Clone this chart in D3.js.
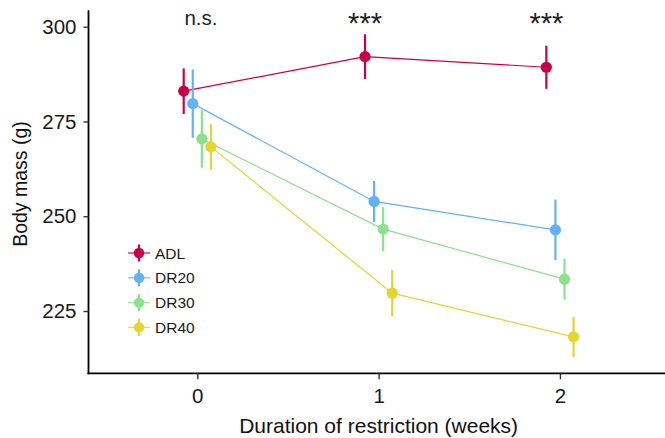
<!DOCTYPE html>
<html>
<head>
<meta charset="utf-8">
<script src="https://cdn.jsdelivr.net/npm/d3@7"></script>
<style>
  body { margin: 0; background: #fff; }
  svg { display: block; font-family: "Liberation Sans", Arial, sans-serif; }
</style>
</head>
<body>
<div id="chart"></div>
<script>
// body mass by diet group, mean +/- error
const weeks = [0, 1, 2]
const groups = ["ADL", "DR20", "DR30", "DR40"]
const colors = ["#c8004a", "#63b1f6", "#8ce28b", "#e4d52f"]

const meanADL  = [283.0, 292.1, 289.3]
const meanDR20 = [279.7, 253.9, 246.4]
const meanDR30 = [270.4, 246.6, 233.4]
const meanDR40 = [268.3, 229.7, 218.2]

const errADL  = [6.0, 5.9, 5.7]
const errDR20 = [9.0, 5.4, 8.0]
const errDR30 = [7.6, 5.8, 5.4]
const errDR40 = [6.0, 6.1, 5.3]

const yTicks = [225, 250, 275, 300]
const sigLabels = ["n.s.", "***", "***"]

const means = [meanADL, meanDR20, meanDR30, meanDR40]
const errs = [errADL, errDR20, errDR30, errDR40]

const W = 665, H = 438
const dodge = 0.2

const x = d3.scaleLinear().domain([-0.6, 2.6]).range([88.5, 668.75])
const y = d3.scaleLinear().domain([208.57, 304.22]).range([373.3, 10.7])

const offset = d3.scalePoint().domain(groups).range([-dodge * 3 / 8, dodge * 3 / 8])

const data = groups.map((g, gi) => ({
  name: g,
  color: colors[gi],
  values: weeks.map((w, i) => ({ week: w, mean: means[gi][i], err: errs[gi][i] }))
}))

const svg = d3.select("#chart").append("svg")
  .attr("width", W).attr("height", H)

const px = (g, d) => x(d.week + offset(g.name))

const line = d3.line()

// lines
svg.append("g")
  .selectAll("path")
  .data(data)
  .join("path")
  .attr("fill", "none")
  .attr("stroke", d => d.color)
  .attr("stroke-width", 1.2)
  .attr("d", g => line(g.values.map(d => [px(g, d), y(d.mean)])))

// error bars
svg.append("g")
  .selectAll("g")
  .data(data)
  .join("g")
  .attr("stroke", d => d.color)
  .attr("stroke-width", 2.2)
  .selectAll("line")
  .data(g => g.values.map(d => ({ g, d })))
  .join("line")
  .attr("x1", o => px(o.g, o.d))
  .attr("x2", o => px(o.g, o.d))
  .attr("y1", o => y(o.d.mean - o.d.err))
  .attr("y2", o => y(o.d.mean + o.d.err))

// points
svg.append("g")
  .selectAll("g")
  .data(data)
  .join("g")
  .attr("fill", d => d.color)
  .selectAll("circle")
  .data(g => g.values.map(d => ({ g, d })))
  .join("circle")
  .attr("cx", o => px(o.g, o.d))
  .attr("cy", o => y(o.d.mean))
  .attr("r", 5.6)

// axes
const yAxis = svg.append("g")
  .attr("transform", `translate(${x.range()[0]},0)`)
  .call(d3.axisLeft(y).tickValues(yTicks).tickSize(5).tickPadding(7))
const xAxis = svg.append("g")
  .attr("transform", `translate(0,${y.range()[0]})`)
  .call(d3.axisBottom(x).tickValues(weeks).tickFormat(d3.format("d")).tickSize(6).tickPadding(9))

for (const ax of [yAxis, xAxis]) {
  ax.select(".domain").attr("stroke", "#000").attr("stroke-width", 1.8)
  ax.selectAll(".tick line").attr("stroke", "#333").attr("stroke-width", 1.4)
  ax.selectAll(".tick text")
    .attr("fill", "#1a1a1a")
    .style("font-size", "20.5px")
    .style("font-family", "Liberation Sans, Arial, sans-serif")
}
// extend the domain paths without outer ticks
yAxis.select(".domain").attr("d", `M0,${y.range()[1] - 0.5}V${y.range()[0] + 1}`)
xAxis.select(".domain").attr("d", `M${x.range()[0] - 1},0H${W}`)

// axis titles
svg.append("text")
  .attr("x", (x.range()[0] + x.range()[1]) / 2)
  .attr("y", 433)
  .attr("text-anchor", "middle")
  .attr("fill", "#111")
  .style("font-size", "21px")
  .text("Duration of restriction (weeks)")

svg.append("text")
  .attr("transform", `translate(27,184) rotate(-90)`)
  .attr("text-anchor", "middle")
  .attr("fill", "#111")
  .style("font-size", "19.5px")
  .text("Body mass (g)")

// significance labels
svg.append("g")
  .selectAll("text")
  .data(sigLabels)
  .join("text")
  .attr("x", (d, i) => x(weeks[i] + (i === 0 ? 0.02 : -0.075)))
  .attr("y", (d, i) => i === 0 ? 25 : 33)
  .attr("text-anchor", "middle")
  .attr("fill", "#222")
  .style("font-size", (d, i) => i === 0 ? "20.5px" : "29px")
  .text(d => d)

// legend
const legend = svg.append("g")
  .attr("transform", "translate(139,253)")
const item = legend.selectAll("g")
  .data(data)
  .join("g")
  .attr("transform", (d, i) => `translate(0,${i * 24.8})`)
item.append("line")
  .attr("x1", -11).attr("x2", 11)
  .attr("stroke", d => d.color).attr("stroke-width", 1.4).attr("stroke-opacity", 0.8)
item.append("line")
  .attr("y1", -8.5).attr("y2", 8.5)
  .attr("stroke", d => d.color).attr("stroke-width", 2.2)
item.append("circle")
  .attr("r", 5.2)
  .attr("fill", d => d.color)
item.append("text")
  .attr("x", 16)
  .attr("dy", "0.36em")
  .attr("fill", "#1a1a1a")
  .style("font-size", "15.5px")
  .text(d => d.name)
</script>
</body>
</html>
